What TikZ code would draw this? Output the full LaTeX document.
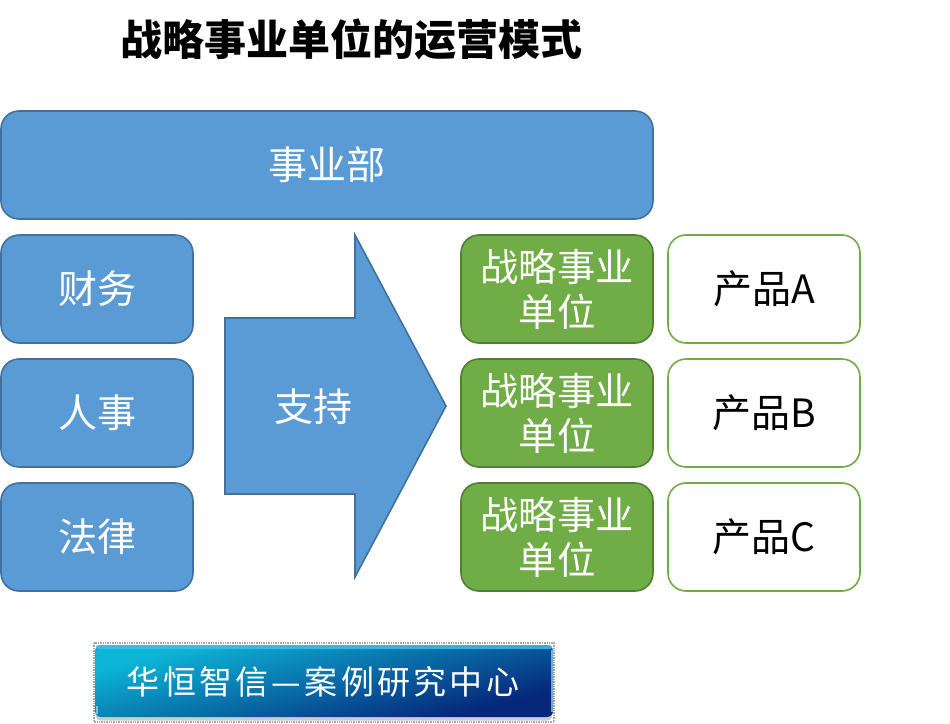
\documentclass[tikz,border=0pt]{standalone}
\usepackage{fontspec}
\setmainfont{Noto Sans CJK SC}
\usetikzlibrary{shadings}
\definecolor{bluefill}{HTML}{5B9BD5}
\definecolor{blueline}{HTML}{41719C}
\definecolor{greenfill}{HTML}{70AD47}
\definecolor{greenline}{HTML}{507E32}
\definecolor{bannerA}{HTML}{0CB4D6}
\definecolor{bannerB}{HTML}{06267A}
\pgfdeclareverticalshading{bannershade}{100bp}{color(0bp)=(bannerB); color(28bp)=(bannerB); color(50bp)=(bannerA!50!bannerB); color(72bp)=(bannerA); color(100bp)=(bannerA)}
\tikzset{
  base/.style={rounded corners=18pt,line width=1.6pt,inner sep=0pt,align=center,font=\fontsize{39}{45}\selectfont,text=white},
  bluebox/.style={base,draw=blueline,fill=bluefill,minimum width=192pt,minimum height=108pt},
  greenbox/.style={base,draw=greenline,fill=greenfill,minimum width=192pt,minimum height=108pt,font=\fontsize{38.3}{45}\selectfont},
  whitebox/.style={base,draw=greenfill,fill=white,text=black,minimum width=192pt,minimum height=108pt},
}
\begin{document}
\begin{tikzpicture}[x=1pt,y=-1pt]
\useasboundingbox (0,0) rectangle (950,723);
\node[font=\fontsize{42}{50}\selectfont\bfseries,text=black,inner sep=0pt] (title) at (351,39.5) {战略事业单位的运营模式};
\node[bluebox,minimum width=652pt] (dept) at (327,165) {事业部};
\node[bluebox] (fin) at (97,289) {财务};
\node[bluebox] (hr) at (97,413) {人事};
\node[bluebox] (law) at (97,537) {法律};
\filldraw[draw=blueline,fill=bluefill,line width=1.6pt] (225,318) -- (355,318) -- (355,235) -- (446,406) -- (355,577) -- (355,494) -- (225,494) -- cycle;
\node[font=\fontsize{39}{45}\selectfont,text=white,inner sep=0pt] (support) at (313,407) {支持};
\node[greenbox] (s1) at (557,289) {战略事业\\单位};
\node[greenbox] (s2) at (557,413) {战略事业\\单位};
\node[greenbox] (s3) at (557,537) {战略事业\\单位};
\node[whitebox] (pa) at (764,289) {产品A};
\node[whitebox] (pb) at (764,413) {产品B};
\node[whitebox] (pc) at (764,537) {产品C};
\draw[gray!70,densely dotted,line width=1.4pt] (94,643) rectangle (554,722);
\fill[gray!40,rounded corners=4pt] (96,655) rectangle (552,720.5);
\node[rounded corners=6pt,shading=bannershade,shading angle=14,minimum width=458pt,minimum height=72pt,inner sep=0pt] (banner) at (324,681) {};
\fill[cyan!75!white,rounded corners=2pt,opacity=.8] (96,645) rectangle (552,649);
\fill[cyan!40!white,opacity=.7] (551,650) rectangle (553,712);
\fill[cyan!40!white,opacity=.7] (95.5,706) rectangle (97.5,714);
\node[text=white,inner sep=0pt,font=\fontsize{33}{34}\selectfont\addfontfeature{LetterSpace=10}] (bannertext) at (323,681.5) {华恒智信—案例研究中心};
\end{tikzpicture}
\end{document}
